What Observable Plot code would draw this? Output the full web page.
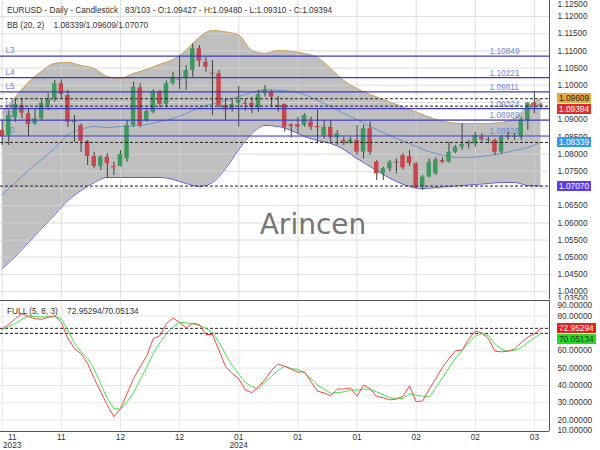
<!DOCTYPE html>
<html><head><meta charset="utf-8">
<script src="https://cdn.jsdelivr.net/npm/d3@7"></script>
<script src="https://cdn.jsdelivr.net/npm/@observablehq/plot@0.6"></script>
<style>
body{margin:0;background:#fff;}
#wrap{position:relative;width:600px;height:450px;overflow:hidden;background:#fff;font-family:"Liberation Sans",Arial,Helvetica,sans-serif;}
#wrap svg{position:absolute;left:0;}
.hdr{position:absolute;left:7px;font-size:8.3px;color:#333;white-space:pre;line-height:9px;}
.badge{position:absolute;left:557px;height:10px;line-height:10px;font-size:8.3px;padding:0 2px;white-space:pre;}
</style></head><body><div id="wrap"></div><script>
// ---- Candles (daily EURUSD), one entry per bar ----
const open  = [1.0869,1.08541,1.09055,1.09413,1.09171,1.08881,1.09026,1.09413,1.09607,1.10043,
1.09703,1.08956,1.08831,1.08366,1.07930,1.07639,1.07910,1.07639,1.07639,1.07863,
1.08831,1.09927,1.08956,1.09218,1.09799,1.09442,1.10061,1.10139,1.10189,1.10430,
1.11061,1.10671,1.10352,1.10334,1.09413,1.09317,1.09480,1.09480,1.09480,1.09346,
1.09770,1.09799,1.09413,1.09442,1.08852,1.08852,1.08831,1.08927,1.08802,1.08541,
1.08782,1.08474,1.08395,1.08317,1.08395,1.08055,1.08735,1.07764,1.07427,1.07572,
1.07764,1.07959,1.07930,1.07718,1.07058,1.07329,1.07427,1.07814,1.07764,1.08055,
1.08200,1.08279,1.08299,1.08491,1.08416,1.08395,1.08055,1.08474,1.08491,1.08491,
1.08977,1.09480,1.09427];
const high  = [1.0898,1.09267,1.09607,1.09607,1.09325,1.09325,1.09558,1.09753,1.10139,1.10160,
1.09849,1.09122,1.08881,1.08395,1.08055,1.07959,1.08009,1.07764,1.08105,1.08977,
1.10090,1.10043,1.09288,1.09869,1.09849,1.10119,1.10381,1.10837,1.10575,1.11206,
1.11157,1.10799,1.10721,1.10430,1.09607,1.09558,1.09965,1.09607,1.09654,1.09849,
1.09994,1.09849,1.09674,1.09462,1.08881,1.09072,1.09171,1.09072,1.09288,1.08977,
1.08977,1.08686,1.08491,1.08491,1.08831,1.08831,1.08927,1.07814,1.07619,1.07814,
1.07863,1.08018,1.08105,1.07764,1.07378,1.07863,1.07892,1.07892,1.08346,1.08250,
1.08881,1.08395,1.08637,1.08590,1.08491,1.08445,1.08541,1.08637,1.08599,1.09072,
1.09509,1.09799,1.09480];
const low   = [1.0825,1.08250,1.08927,1.09026,1.08511,1.08831,1.08956,1.09267,1.09509,1.09607,
1.08782,1.08346,1.08055,1.07669,1.07572,1.07523,1.07282,1.07378,1.07619,1.07764,
1.08782,1.08764,1.08927,1.09171,1.09346,1.09346,1.09994,1.09869,1.09849,1.10235,
1.10526,1.10381,1.09122,1.09346,1.08977,1.09218,1.08782,1.09247,1.09171,1.09218,
1.09654,1.09363,1.09218,1.08637,1.08474,1.08590,1.08782,1.08686,1.08299,1.08445,
1.08346,1.08250,1.08250,1.08299,1.07959,1.07863,1.07959,1.07232,1.07232,1.07474,
1.07427,1.07543,1.07639,1.06991,1.06942,1.07311,1.07378,1.07718,1.07735,1.08009,
1.08105,1.08154,1.08200,1.08346,1.08299,1.07959,1.07988,1.08395,1.08395,1.08395,
1.08686,1.09171,1.09310];
const close = [1.0851,1.09122,1.09442,1.09189,1.08860,1.09026,1.09480,1.09587,1.10043,1.09732,
1.08927,1.08918,1.08375,1.07930,1.07639,1.07910,1.07718,1.07601,1.07988,1.08831,
1.09945,1.08831,1.09238,1.09799,1.09442,1.10043,1.10235,1.10168,1.10430,1.11061,
1.10700,1.10526,1.10323,1.09413,1.09288,1.09442,1.09558,1.09442,1.09363,1.09724,
1.09849,1.09654,1.09363,1.08782,1.08802,1.08782,1.09122,1.08782,1.08764,1.08782,
1.08474,1.08590,1.08346,1.08416,1.08055,1.08735,1.08055,1.07427,1.07572,1.07764,
1.07741,1.07601,1.07726,1.07038,1.07329,1.07764,1.07834,1.07764,1.08055,1.08200,
1.08279,1.08288,1.08541,1.08416,1.08406,1.08055,1.08491,1.08541,1.08510,1.08977,
1.09480,1.09413,1.09394];

// ---- Bollinger Bands (20, 2), read at every second bar ----
const bbIdx = [0,2,4,6,8,10,12,14,16,18,20,22,24,26,28,30,32,34,36,38,40,42,44,46,48,50,52,54,56,58,60,62,64,66,68,70,72,74,76,78,80,82];
const bbUpper = [1.09209,1.09645,1.10081,1.10401,1.10634,1.10663,1.10575,1.10488,1.10256,1.10198,
1.10343,1.10459,1.10605,1.10750,1.11012,1.11389,1.11593,1.11549,1.11462,1.11012,
1.10924,1.11012,1.10982,1.10924,1.10808,1.10488,1.10139,1.09907,1.09732,1.09587,
1.09442,1.09296,1.09151,1.09006,1.08918,1.08889,1.08889,1.08889,1.08918,1.09035,
1.09384,1.09609];
const bbMiddle = [1.06825,1.07174,1.07523,1.07843,1.08163,1.08570,1.08715,1.08802,1.08773,1.08802,
1.08817,1.08860,1.08948,1.09035,1.09180,1.09355,1.09456,1.09558,1.09674,1.09791,
1.09878,1.09849,1.09820,1.09732,1.09558,1.09384,1.09180,1.09006,1.08802,1.08628,
1.08453,1.08308,1.08134,1.08017,1.07930,1.07901,1.07916,1.07959,1.08017,1.08105,
1.08192,1.08339];
const bbLower = [1.04674,1.05023,1.05430,1.05837,1.06244,1.06651,1.06942,1.07174,1.07320,1.07320,
1.07320,1.07320,1.07320,1.07262,1.07145,1.07058,1.07174,1.07581,1.08134,1.08599,
1.08831,1.08802,1.08686,1.08512,1.08395,1.08308,1.08134,1.07872,1.07639,1.07407,
1.07203,1.07058,1.07000,1.07029,1.07058,1.07087,1.07116,1.07145,1.07174,1.07174,
1.07087,1.07070];

// ---- Stochastic FULL (5, 8, 3) ----
const stochK = [72.5,75.2,78.6,81.5,79.6,78.6,78.2,79.4,80.2,76.3,
67.1,61.3,58.3,52.7,44.0,36.3,28.6,21.9,26.7,35.4,
44.0,50.8,57.1,67.1,68.7,75.8,79.0,76.3,73.3,75.8,
75.2,69.4,69.4,60.3,50.8,46.9,44.0,37.3,35.9,39.2,
43.4,48.8,52.3,51.1,49.4,47.7,47.9,42.1,36.7,35.7,
34.0,37.9,37.9,38.6,33.8,40.2,38.2,33.6,32.9,31.7,
32.1,33.8,39.8,30.6,31.1,37.9,44.0,50.4,55.6,60.0,
60.4,66.7,71.5,70.2,67.1,59.8,59.4,59.8,61.1,64.8,
67.9,69.8,72.95294];
const stochD = [72.3,73.8,75.8,78.2,80.2,79.8,79.6,79.6,79.6,78.5,
71.9,64.4,59.4,55.6,49.4,40.7,32.5,26.7,26.3,30.5,
35.9,43.3,50.5,58.6,64.6,70.2,73.8,76.5,76.1,75.6,
74.6,73.0,70.6,64.8,58.0,51.7,46.5,41.7,39.4,37.8,
41.9,45.3,48.8,51.1,49.8,49.2,47.5,44.0,40.2,37.9,
35.5,35.9,36.3,37.3,37.3,37.9,37.7,36.3,34.6,32.9,
32.5,32.5,35.2,34.4,33.8,33.4,38.6,44.4,50.2,56.0,
60.2,64.8,68.4,70.0,68.7,64.0,60.9,59.8,60.2,61.9,
64.8,67.5,70.05134];

// ---- Horizontal levels ----
const levelNames  = ["L3","L4","L5","L1","L2","L0"];
const levelValues = [1.10849,1.10221,1.09811,1.09324,1.08989,1.08526];

// ---- Axis ticks ----
const priceTicks = d3.range(1.040, 1.1201, 0.005).map(v => +v.toFixed(3));
const priceEdgeTicks = [1.125, 1.035];
const stochTicks = [20,30,40,50,60,70,80];
const stochEdgeTicks = [90, 10];
const xTickIdx   = [0,9,18,27,36,45,54,63,72,81];
const xTickMonth = ["11","11","12","12","01","01","01","02","02","03"];
const xTickYear  = ["2023","","","","2024","","","","",""];

const symbol = "EURUSD", period = "Daily", chartType = "Candlestick";
const barInfo = "83/103";
const watermark = ["Arincen"];

// ---------------------------------------------------------------
const fmt5 = d3.format(".5f");
const FS = 8.3;
const font = '"Liberation Sans", Arial, Helvetica, sans-serif';
const xDomain = [-0.26, 83.3];
const yMain = [1.03773, 1.12465];
const yLow = [13.43, 89.03];
const N = close.length;
const candles = d3.range(N).map(i => {
  const o = open[i], c = close[i];
  let b1 = Math.min(o, c), b2 = Math.max(o, c);
  if (b2 - b1 < 0.0003) { const m = (b1 + b2) / 2; b1 = m - 0.00015; b2 = m + 0.00015; }
  return {i, o, h: high[i], l: low[i], c, b1, b2, up: c >= o};
});
const bands = bbIdx.map((i, k) => ({i, up: bbUpper[k], mid: bbMiddle[k], lo: bbLower[k]}));
const levels = levelValues.map((v, k) => ({v, name: levelNames[k]}));
const lastC = candles[N - 1];
const dottedMain = [bbMiddle[bbMiddle.length-1], bbUpper[bbUpper.length-1], bbLower[bbLower.length-1], close[N-1]];
const dottedLow = [stochK[N-1], stochD[N-1]];
const xTicks = xTickIdx.map((i, k) => ({i, label: xTickYear[k] ? xTickMonth[k] + "\n" + xTickYear[k] : xTickMonth[k]}));
// tick labels that sit completely under a value badge are not shown
const priceLabelTicks = priceTicks.filter(t => !dottedMain.some(v => Math.abs(v - t) < 0.0013));
const stochLabelTicks = stochTicks.filter(t => !dottedLow.some(v => Math.abs(v - t) < 2.5));
const GREEN = "#3e9a5c", RED = "#c8454b", GRID = "#dcdcdc";

const main = Plot.plot({
  width: 600, height: 300,
  marginTop: 0, marginRight: 51, marginBottom: 1, marginLeft: 0,
  x: {domain: xDomain, axis: null},
  y: {domain: yMain, axis: null},
  style: {fontFamily: font, fontSize: FS + "px", background: "white"},
  marks: [
    Plot.gridY(priceTicks, {stroke: "#e8e8e8", strokeOpacity: 1}),
    Plot.gridX(xTickIdx, {stroke: "#e8e8e8", strokeOpacity: 1}),
    Plot.areaY(bands, {x: "i", y1: "lo", y2: "up", fill: "#bfbfbf", curve: "monotone-x"}),
    Plot.gridY(priceTicks, {stroke: GRID, strokeOpacity: 0.55}),
    Plot.gridX(xTickIdx, {stroke: GRID, strokeOpacity: 0.55}),
    Plot.line(bands, {x: "i", y: "up", stroke: "#d6a24e", strokeWidth: 1, curve: "monotone-x"}),
    Plot.line(bands, {x: "i", y: "lo", stroke: "#5a5ad6", strokeWidth: 1, curve: "monotone-x"}),
    Plot.line(bands, {x: "i", y: "mid", stroke: "#6b93d6", strokeWidth: 1, curve: "monotone-x"}),
    Plot.text(watermark, {text: d => d, frameAnchor: "middle", dx: 38, dy: 75, fontSize: 28, fontFamily: "DejaVu Sans", fill: "#767676"}),
    Plot.text(levels, {y: "v", text: d => fmt5(d.v), frameAnchor: "right", dx: -60, textAnchor: "start", lineAnchor: "bottom", dy: -2, fill: "#6c86e2", fontSize: FS}),
    Plot.text(levels, {y: "v", text: "name", frameAnchor: "left", dx: 5, textAnchor: "start", lineAnchor: "bottom", dy: -3, fill: "#6c86e2", fontSize: FS}),
    Plot.ruleX(candles, {x: "i", y1: "l", y2: "h", stroke: "#404040", strokeWidth: 1}),
    Plot.rect(candles.filter(d => d.up), {x1: d => d.i - 0.34, x2: d => d.i + 0.34, y1: "b1", y2: "b2", fill: GREEN}),
    Plot.rect(candles.filter(d => !d.up), {x1: d => d.i - 0.34, x2: d => d.i + 0.34, y1: "b1", y2: "b2", fill: RED}),
    Plot.ruleY(levelValues, {stroke: "#3a3ac6", strokeWidth: 1.2}),
    Plot.ruleY(dottedMain, {stroke: "#222", strokeDasharray: "3,2"}),
    Plot.axisY(priceLabelTicks, {anchor: "right", tickSize: 0, tickPadding: 8, tickFormat: fmt5, fill: "#333", fontSize: FS, label: null}),
    Plot.text([priceEdgeTicks[0]], {y: d => Math.min(d, yMain[1]), text: fmt5, frameAnchor: "right", dx: 8, textAnchor: "start", lineAnchor: "top", dy: 1, fill: "#333", fontSize: FS}),
    Plot.text([priceEdgeTicks[1]], {y: d => Math.max(d, yMain[0]), text: fmt5, frameAnchor: "right", dx: 8, textAnchor: "start", lineAnchor: "middle", dy: -1.5, fill: "#333", fontSize: FS}),
    Plot.ruleX([xDomain[1]], {stroke: "#555"})
  ]
});

const lower = Plot.plot({
  width: 600, height: 150,
  marginTop: 0, marginRight: 51, marginBottom: 19, marginLeft: 0,
  x: {domain: xDomain, axis: null},
  y: {domain: yLow, axis: null},
  style: {fontFamily: font, fontSize: FS + "px", background: "white"},
  marks: [
    Plot.gridY(stochTicks, {stroke: "#e6e6e6", strokeOpacity: 1}),
    Plot.gridX(xTickIdx, {stroke: "#e6e6e6", strokeOpacity: 1}),
    Plot.ruleY(dottedLow, {stroke: "#222", strokeDasharray: "3,2"}),
    Plot.line(d3.range(N), {x: i => i, y: i => stochD[i], stroke: "#46e046", strokeWidth: 1}),
    Plot.line(d3.range(N), {x: i => i, y: i => stochK[i], stroke: "#f04848", strokeWidth: 1}),
    Plot.axisY(stochLabelTicks, {anchor: "right", tickSize: 0, tickPadding: 8, tickFormat: fmt5, fill: "#333", fontSize: FS, label: null}),
    Plot.text([stochEdgeTicks[0]], {y: d => Math.min(d, yLow[1]), text: fmt5, frameAnchor: "right", dx: 8, textAnchor: "start", lineAnchor: "top", dy: 2, fill: "#333", fontSize: FS}),
    Plot.text([stochEdgeTicks[1]], {y: d => Math.max(d, yLow[0]), text: fmt5, frameAnchor: "right", dx: 8, textAnchor: "start", lineAnchor: "bottom", dy: 1, fill: "#333", fontSize: FS}),
    Plot.text(xTicks.slice(1), {x: "i", text: "label", frameAnchor: "bottom", lineAnchor: "top", dy: 2, fill: "#333", fontSize: FS, lineHeight: 1.05}),
    Plot.text(xTicks.slice(0, 1), {x: "i", text: "label", frameAnchor: "bottom", lineAnchor: "top", dy: 2, dx: 10, fill: "#333", fontSize: FS, lineHeight: 1.05}),
    Plot.ruleY([yLow[1]], {stroke: "#555"}),
    Plot.ruleY([yLow[0]], {stroke: "#555"}),
    Plot.ruleX([xDomain[1]], {stroke: "#555"})
  ]
});

const wrap = document.getElementById("wrap");
main.style.top = "0px";
lower.style.top = "300px";
wrap.appendChild(main);
wrap.appendChild(lower);

function addDiv(cls, top, text, extra) {
  const d = document.createElement("div");
  d.className = cls; d.style.top = top + "px"; d.textContent = text;
  Object.assign(d.style, extra || {});
  wrap.appendChild(d);
  return d;
}
addDiv("hdr", 6, `${symbol} - ${period} - ${chartType}   ${barInfo} - O:${fmt5(lastC.o)} - H:${fmt5(lastC.h)} - L:${fmt5(lastC.l)} - C:${fmt5(lastC.c)}`);
addDiv("hdr", 21, `BB (20, 2)    ${fmt5(dottedMain[0])}/${fmt5(dottedMain[1])}/${fmt5(dottedMain[2])}`);
addDiv("hdr", 307, `FULL (5, 8, 3)    ${fmt5(stochK[N-1])}/${fmt5(stochD[N-1])}`);

function badges(plot, offset, list) {
  const ys = plot.scale("y");
  const items = list.map(b => ({...b, y: ys.apply(b.v) + offset})).sort((a, b) => a.y - b.y);
  let prevBottom = -Infinity;
  for (const b of items) {
    let top = b.y - 5;
    if (top < prevBottom + 1) top = prevBottom + 1;
    prevBottom = top + 10;
    addDiv("badge", top, fmt5(b.v), {background: b.bg, color: b.fg});
  }
}
badges(main, 0, [
  {v: dottedMain[1], bg: "#e8a83a", fg: "#222"},
  {v: close[N-1], bg: "#e02b2b", fg: "#fff"},
  {v: dottedMain[0], bg: "#3399f0", fg: "#fff"},
  {v: dottedMain[2], bg: "#5b3cf0", fg: "#fff"}
]);
badges(lower, 300, [
  {v: stochK[N-1], bg: "#ee1c1c", fg: "#fff"},
  {v: stochD[N-1], bg: "#22dd22", fg: "#333"}
]);
</script></body></html>
